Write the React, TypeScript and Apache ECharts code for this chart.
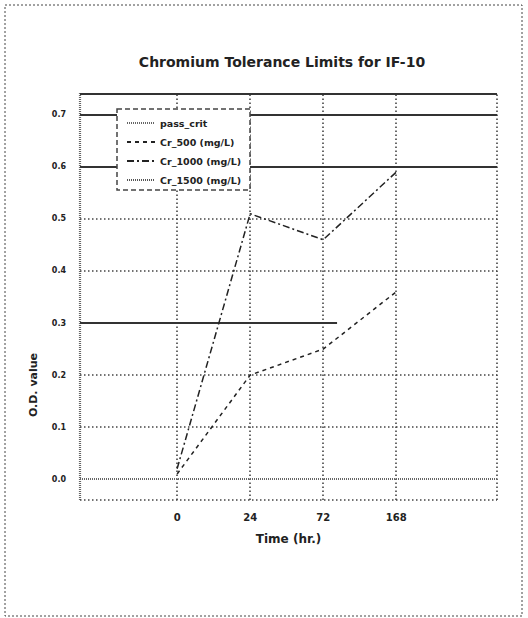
import React, { useEffect, useRef } from "react";
import * as echarts from "echarts";

const titleText = "Chromium Tolerance Limits for IF-10";
const timeLabels = ["0", "24", "72", "168"];
const timeIndex = [0, 1, 2, 3];
const yTicks = [0, 0.1, 0.2, 0.3, 0.4, 0.5, 0.6, 0.7];
const dottedY = [0.1, 0.2, 0.4, 0.5];
const solidLimits = [0.7, 0.6];
const partialLimit = 0.3;
const partialLimitEnd = 2.19;
const cr500 = [0.01, 0.2, 0.25, 0.36];
const cr1000 = [0.02, 0.51, 0.46, 0.59];
const seriesNames = ["pass_crit", "Cr_500 (mg/L)", "Cr_1000 (mg/L)", "Cr_1500 (mg/L)"];

const X_MIN = -1.33;
const X_MAX = 4.38;
const Y_MIN = -0.04;
const Y_MAX = 0.742;

const FONT = "DejaVu Sans";
const INK = "#222";

export default function App() {
  const ref = useRef<HTMLDivElement>(null);
  useEffect(() => {
    document.body.style.margin = "0";
    const chart = echarts.init(ref.current!, null, { renderer: "svg" });
    const dotted = { color: "#444", type: [1.5, 2.5] as any, width: 1.6 };
    const wavy = { color: "#666", type: [1, 1] as any, width: 2.2 };
    const solid = { color: "#333", type: "solid" as any, width: 2 };
    const mkX = (v: number, ls: any) => ({ xAxis: v, lineStyle: ls });
    const mkY = (v: number, ls: any) => ({ yAxis: v, lineStyle: ls });

    chart.setOption({
      animation: false,
      backgroundColor: "#fff",
      title: {
        text: titleText,
        left: 277,
        top: 50,
        textAlign: "center",
        textStyle: { fontFamily: FONT, fontSize: 14, fontWeight: "bold", color: INK },
      },
      grid: { left: 80, top: 93, right: 31, bottom: 118 },
      xAxis: {
        type: "value",
        min: X_MIN,
        max: X_MAX,
        axisLine: { show: false },
        axisTick: { show: false },
        splitLine: { show: false },
        name: "Time (hr.)",
        nameLocation: "middle",
        nameGap: 33,
        nameTextStyle: { fontFamily: FONT, fontSize: 12, fontWeight: "bold", color: INK },
        axisLabel: {
          customValues: timeIndex,
          formatter: (v: number) => timeLabels[Math.round(v)] ?? "",
          margin: 12,
          fontFamily: FONT,
          fontSize: 10,
          fontWeight: "bold",
          color: INK,
        },
      },
      yAxis: {
        type: "value",
        min: Y_MIN,
        max: Y_MAX,
        axisLine: { show: false },
        axisTick: { show: false },
        splitLine: { show: false },
        axisLabel: {
          customValues: yTicks,
          formatter: (v: number) => v.toFixed(1),
          margin: 14,
          fontFamily: FONT,
          fontSize: 8,
          fontWeight: "bold",
          color: INK,
        },
      },
      legend: {
        orient: "vertical",
        left: 121,
        top: 113,
        z: 20,
        data: seriesNames,
        itemWidth: 28,
        itemHeight: 9,
        itemGap: 9,
        itemStyle: { opacity: 0 },
        textStyle: { fontFamily: FONT, fontSize: 9.5, fontWeight: "bold", color: INK },
      },
      graphic: [
        {
          type: "rect",
          z: 10,
          shape: { x: 117, y: 109, width: 133, height: 81 },
          style: { fill: "#fff", stroke: "#444", lineWidth: 1.5, lineDash: [5, 3] },
        },
        {
          type: "text",
          x: 33,
          y: 385,
          rotation: Math.PI / 2,
          style: {
            text: "O.D. value",
            fontFamily: FONT,
            fontSize: 11,
            fontWeight: "bold",
            fill: INK,
            align: "center",
            verticalAlign: "middle",
          },
        },
        {
          type: "rect",
          silent: true,
          shape: { x: 5, y: 5, width: 517, height: 611 },
          style: { fill: "none", stroke: "#444", lineWidth: 1, lineDash: [2, 2] },
        },
      ],
      series: [
        {
          name: "grid",
          type: "line",
          data: [],
          z: 1,
          silent: true,
          markLine: {
            silent: true,
            symbol: "none",
            label: { show: false },
            emphasis: { disabled: true },
            data: [
              ...timeIndex.map((v) => mkX(v, dotted)),
              mkX(X_MAX, dotted),
              mkX(X_MIN, wavy),
              ...dottedY.map((v) => mkY(v, dotted)),
              mkY(0, wavy),
              mkY(Y_MIN, dotted),
              mkY(Y_MAX, solid),
              ...solidLimits.map((v) => mkY(v, solid)),
              [
                { coord: [X_MIN, partialLimit], lineStyle: solid },
                { coord: [partialLimitEnd, partialLimit] },
              ],
            ],
          },
        },
        {
          name: seriesNames[0],
          type: "line",
          data: [],
          symbol: "none",
          lineStyle: { color: "#666", type: [1, 1], width: 1.5 },
          itemStyle: { color: "#666" },
        },
        {
          name: seriesNames[1],
          type: "line",
          data: timeIndex.map((x, i) => [x, cr500[i]]),
          symbol: "none",
          z: 5,
          lineStyle: { color: INK, type: [4, 4], width: 1.5 },
          itemStyle: { color: INK },
        },
        {
          name: seriesNames[2],
          type: "line",
          data: timeIndex.map((x, i) => [x, cr1000[i]]),
          symbol: "none",
          z: 5,
          lineStyle: { color: INK, type: [7, 3, 2, 3], width: 1.5 },
          itemStyle: { color: INK },
        },
        {
          name: seriesNames[3],
          type: "line",
          data: [],
          symbol: "none",
          lineStyle: { color: "#555", type: [1, 1], width: 1.5 },
          itemStyle: { color: "#555" },
        },
      ],
    });
    return () => chart.dispose();
  }, []);
  return <div ref={ref} style={{ position: "absolute", left: 0, top: 0, width: 528, height: 618 }} />;
}
